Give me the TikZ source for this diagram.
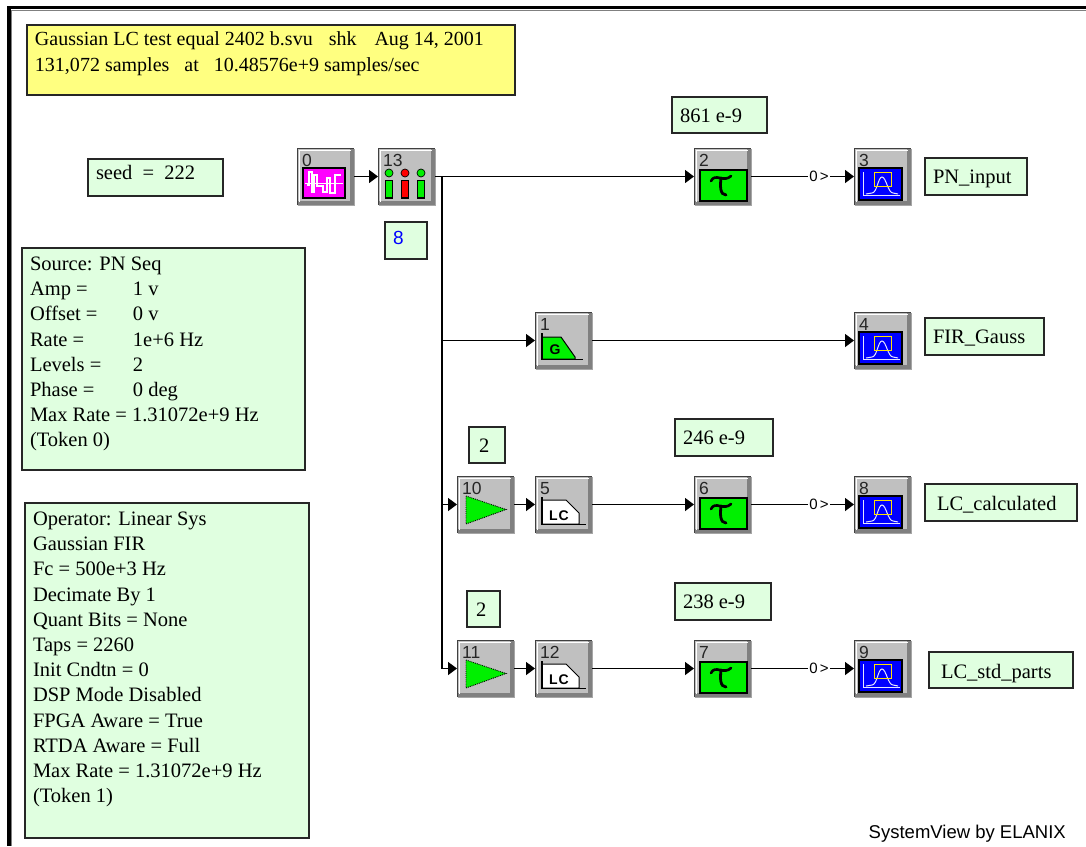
\documentclass[tikz,border=0pt]{standalone}
\usepackage{fontspec}
\setmainfont{Liberation Serif}
\setsansfont{Liberation Sans}
\usetikzlibrary{arrows.meta}
\definecolor{noteg}{HTML}{E0FFE0}
\definecolor{notey}{HTML}{FFFF80}
\definecolor{blk}{HTML}{C0C0C0}
\definecolor{bd}{HTML}{808080}
\definecolor{gr}{HTML}{00F000}
\definecolor{pnm}{HTML}{FF00FF}
\definecolor{scb}{HTML}{0000FF}
\newcommand{\txtsize}{\fontsize{20.5}{25.2}\selectfont}
% note box: name, x, y, w, h, pad-left, pad-top, style, text
\newcommand{\notebox}[9]{%
  \node[notebox,#8,anchor=north west] (#1) at (#2,#3) {%
    \begin{minipage}[c][#5pt][t]{#4pt}\txtsize\vspace*{#7pt}\leftskip=#6pt\relax #9\end{minipage}};}
\newcommand{\kv}[2]{\makebox[103pt][l]{#1}#2}
% block: name, x, y, number, icon
\newcommand{\blockn}[5]{%
  \node[blockbox,anchor=north west] (#1) at (#2,#3) {};
  \begin{scope}[shift={(#2,#3)}]
    \fill[bd] (0,0) -- (57,0) -- (57,57) -- (0,57) -- cycle;
    \fill[blk] (1,1) rectangle (53,53);
    \draw[white,line width=1pt] (2,54) -- (2,2) -- (54,2);
    \draw[black!75,line width=1.5pt] (0.5,57) -- (0.5,0.5) -- (57,0.5);
    \draw[bd!70,line width=0.8pt] (0.5,57) -- (57,57) -- (57,0.5);
    \node[blocknum] at (5,6) {#4};
    #5
  \end{scope}}
\newcommand{\icontau}{%
  \fill[gr] (6,22) rectangle (53,53);
  \draw[black,line width=1.2pt] (6,22) rectangle (53,53);
  \draw[black,line width=2.6pt,line cap=round] (17,33) .. controls (19,29) and (22,29) .. (26,30) .. controls (30,31) and (34,31) .. (37,28);
  \draw[black,line width=2.8pt,line cap=round] (27,30) .. controls (26,38) and (26,47) .. (32,47);}
\newcommand{\iconscope}{%
  \fill[scb] (5,20) rectangle (48,52);
  \draw[black,line width=1.2pt] (5,20) rectangle (48,52);
  \draw[white!90!blue,line width=1pt] (9,24) -- (9,47) -- (46,47);
  \draw[white!90!blue,line width=1pt] (12,46) -- (18,45) .. controls (23,45) and (24,29) .. (28,29) .. controls (32,29) and (34,45) .. (39,45) -- (44,46);
  \draw[yellow!85!orange,line width=1pt] (20,24) rectangle (37,38);}
\newcommand{\iconfilterg}{%
  \draw[black,fill=gr,line width=1pt] (7,47) -- (7,25) -- (26,25) -- (40,45) -- (40,47) -- cycle;
  \draw[black,line width=1.2pt] (7,21) -- (7,47.5) -- (48,47.5);
  \node[iconlabel] at (20,38) {G};}
\newcommand{\iconfilterw}{%
  \draw[black,fill=white,line width=1pt] (7,48) -- (7,24) -- (31,24) -- (44,37) -- (44,48) -- cycle;
  \draw[black,line width=1.2pt] (7,21) -- (7,48.5) -- (51,48.5);
  \node[iconlabel] at (24,40) {L\kern1ptC};}
\newcommand{\icontri}{%
  \draw[black,fill=gr,line width=0.9pt,densely dotted] (9,20) -- (49,33.5) -- (9,48) -- cycle;}
\newcommand{\iconmeters}{%
  \foreach \xx/\cc in {11/gr,27/red,43/gr}{%
    \fill[\cc] (\xx,25) circle (4);
    \draw[black,line width=0.7pt] (\xx,25) circle (4);
    \fill[\cc] (\xx-3.3,32.5) rectangle (\xx+3.3,50);
    \draw[black,line width=1.2pt] (\xx-3.3,32.5) rectangle (\xx+3.3,50);}}
\newcommand{\iconpn}{%
  \fill[pnm] (6,20) rectangle (48,50);
  \draw[black,line width=1.2pt] (6,20) rectangle (48,50);
  \draw[white,line width=0.9pt] (8,35) -- (46,35);
  \draw[white,line width=1.3pt] (10,37) -- (12,37) -- (12,24) -- (15,24) -- (15,44) -- (17,44) -- (17,27) -- (20,27) -- (20,38) -- (26,38) -- (26,44) -- (30,44) -- (30,30) -- (33,30) -- (33,45) -- (38,45) -- (38,27) -- (44,27);}
\tikzset{
  x=1pt,y=-1pt,
  notebox/.style={draw=black!85,line width=1.4pt,fill=noteg,inner sep=0pt,outer sep=0pt},
  yellowbox/.style={fill=notey},
  blockbox/.style={minimum width=57pt,minimum height=57pt,inner sep=0pt,outer sep=0pt},
  blocknum/.style={anchor=north west,inner sep=0pt,font=\sffamily\fontsize{17.5}{17.5}\selectfont,text=black!85},
  iconlabel/.style={inner sep=0pt,font=\sffamily\bfseries\fontsize{14}{14}\selectfont},
  wire/.style={draw=black,line width=1.4pt},
  arr/.style={wire,-{Triangle[length=9pt,width=13pt]}},
  portlabel/.style={fill=white,inner sep=1pt,font=\sffamily\fontsize{15}{15}\selectfont}
}
\begin{document}
\begin{tikzpicture}
\useasboundingbox (0,0) rectangle (1086,846);
\fill[white] (0,0) rectangle (1086,846);
\draw[black,line width=3.4pt] (1086,7.7) -- (9,7.7) -- (9,846);
\draw[black!50,line width=0.6pt] (1086,9.8) -- (11,9.8) -- (11,846);

\notebox{title}{27}{25}{488}{70}{8}{7}{yellowbox}{\fontsize{20}{25.2}\selectfont Gaussian LC test equal 2402 b.svu\hspace{0.8em}shk\hspace{0.9em}Aug 14, 2001\\131,072 samples\hspace{0.5em} at\hspace{0.5em} 10.48576e+9 samples/sec}
\notebox{seed}{88}{159}{135}{37}{8}{6}{}{seed\hspace{0.5em}=\hspace{0.5em}222}
\notebox{src}{22}{248}{283}{222}{8}{9}{}{Source: PN Seq\\\kv{Amp =}{1 v}\\\kv{Offset =}{0 v}\\\kv{Rate =}{1e+6 Hz}\\\kv{Levels =}{2}\\\kv{Phase =}{0 deg}\\Max Rate = 1.31072e+9 Hz\\(Token 0)}
\notebox{op}{25}{503}{284}{335}{8}{9}{}{Operator: Linear Sys\\Gaussian FIR\\Fc = 500e+3 Hz\\Decimate By 1\\Quant Bits = None\\Taps = 2260\\Init Cndtn = 0\\DSP Mode Disabled\\FPGA Aware = True\\RTDA Aware = Full\\Max Rate = 1.31072e+9 Hz\\(Token 1)}
\notebox{eight}{385}{222}{42}{37}{8}{9}{}{\sffamily\fontsize{19}{20}\selectfont\color{blue}8}
\notebox{d2}{672}{97}{95}{36}{8}{12}{}{861 e-9}
\notebox{d6}{675}{419}{98}{37}{8}{12}{}{246 e-9}
\notebox{d7}{675}{583}{96}{37}{8}{12}{}{238 e-9}
\notebox{g10}{469}{427}{36}{36}{10}{12}{}{2}
\notebox{g11}{467}{591}{33}{36}{9}{12}{}{2}
\notebox{n3}{925}{158}{102}{37}{8}{12}{}{PN\_input}
\notebox{n4}{925}{318}{119}{37}{8}{12}{}{FIR\_Gauss}
\notebox{n8}{925}{484}{152}{37}{12}{12}{}{LC\_calculated}
\notebox{n9}{929}{652}{144}{36}{12}{12}{}{LC\_std\_parts}

\blockn{b0}{297}{148}{0}{\iconpn}
\blockn{b13}{378}{148}{13}{\iconmeters}
\blockn{b2}{694}{148}{2}{\icontau}
\blockn{b3}{854}{148}{3}{\iconscope}
\blockn{b1}{535}{312}{1}{\iconfilterg}
\blockn{b4}{854}{312}{4}{\iconscope}
\blockn{b10}{457}{476}{10}{\icontri}
\blockn{b5}{535}{476}{5}{\iconfilterw}
\blockn{b6}{694}{476}{6}{\icontau}
\blockn{b8}{854}{476}{8}{\iconscope}
\blockn{b11}{457}{640}{11}{\icontri}
\blockn{b12}{535}{640}{12}{\iconfilterw}
\blockn{b7}{694}{640}{7}{\icontau}
\blockn{b9}{854}{640}{9}{\iconscope}

\coordinate (t0) at (442,176.5);
\coordinate (t1) at (442,340.5);
\coordinate (t2) at (442,504.5);
\coordinate (t3) at (442,668.5);
\draw[arr] (b0.east) -- (b13.west);
\draw[arr] (b13.east) -- (b2.west);
\draw[arr] (b2.east) -- node[portlabel,pos=0.66,name=p1]{0\kern2pt>} (b3.west);
\draw[wire] (t0) -- (t3);
\draw[arr] (t1) -- (b1.west);
\draw[arr] (b1.east) -- (b4.west);
\draw[arr] (t2) -- (b10.west);
\draw[arr] (b10.east) -- (b5.west);
\draw[arr] (b5.east) -- (b6.west);
\draw[arr] (b6.east) -- node[portlabel,pos=0.66,name=p2]{0\kern2pt>} (b8.west);
\draw[arr] (t3) -- (b11.west);
\draw[arr] (b11.east) -- (b12.west);
\draw[arr] (b12.east) -- (b7.west);
\draw[arr] (b7.east) -- node[portlabel,pos=0.66,name=p3]{0\kern2pt>} (b9.west);

\node[anchor=east,inner sep=0pt,font=\sffamily\fontsize{18.5}{18.5}\selectfont] (credit) at (1066,834) {SystemView by ELANIX};
\end{tikzpicture}
\end{document}
